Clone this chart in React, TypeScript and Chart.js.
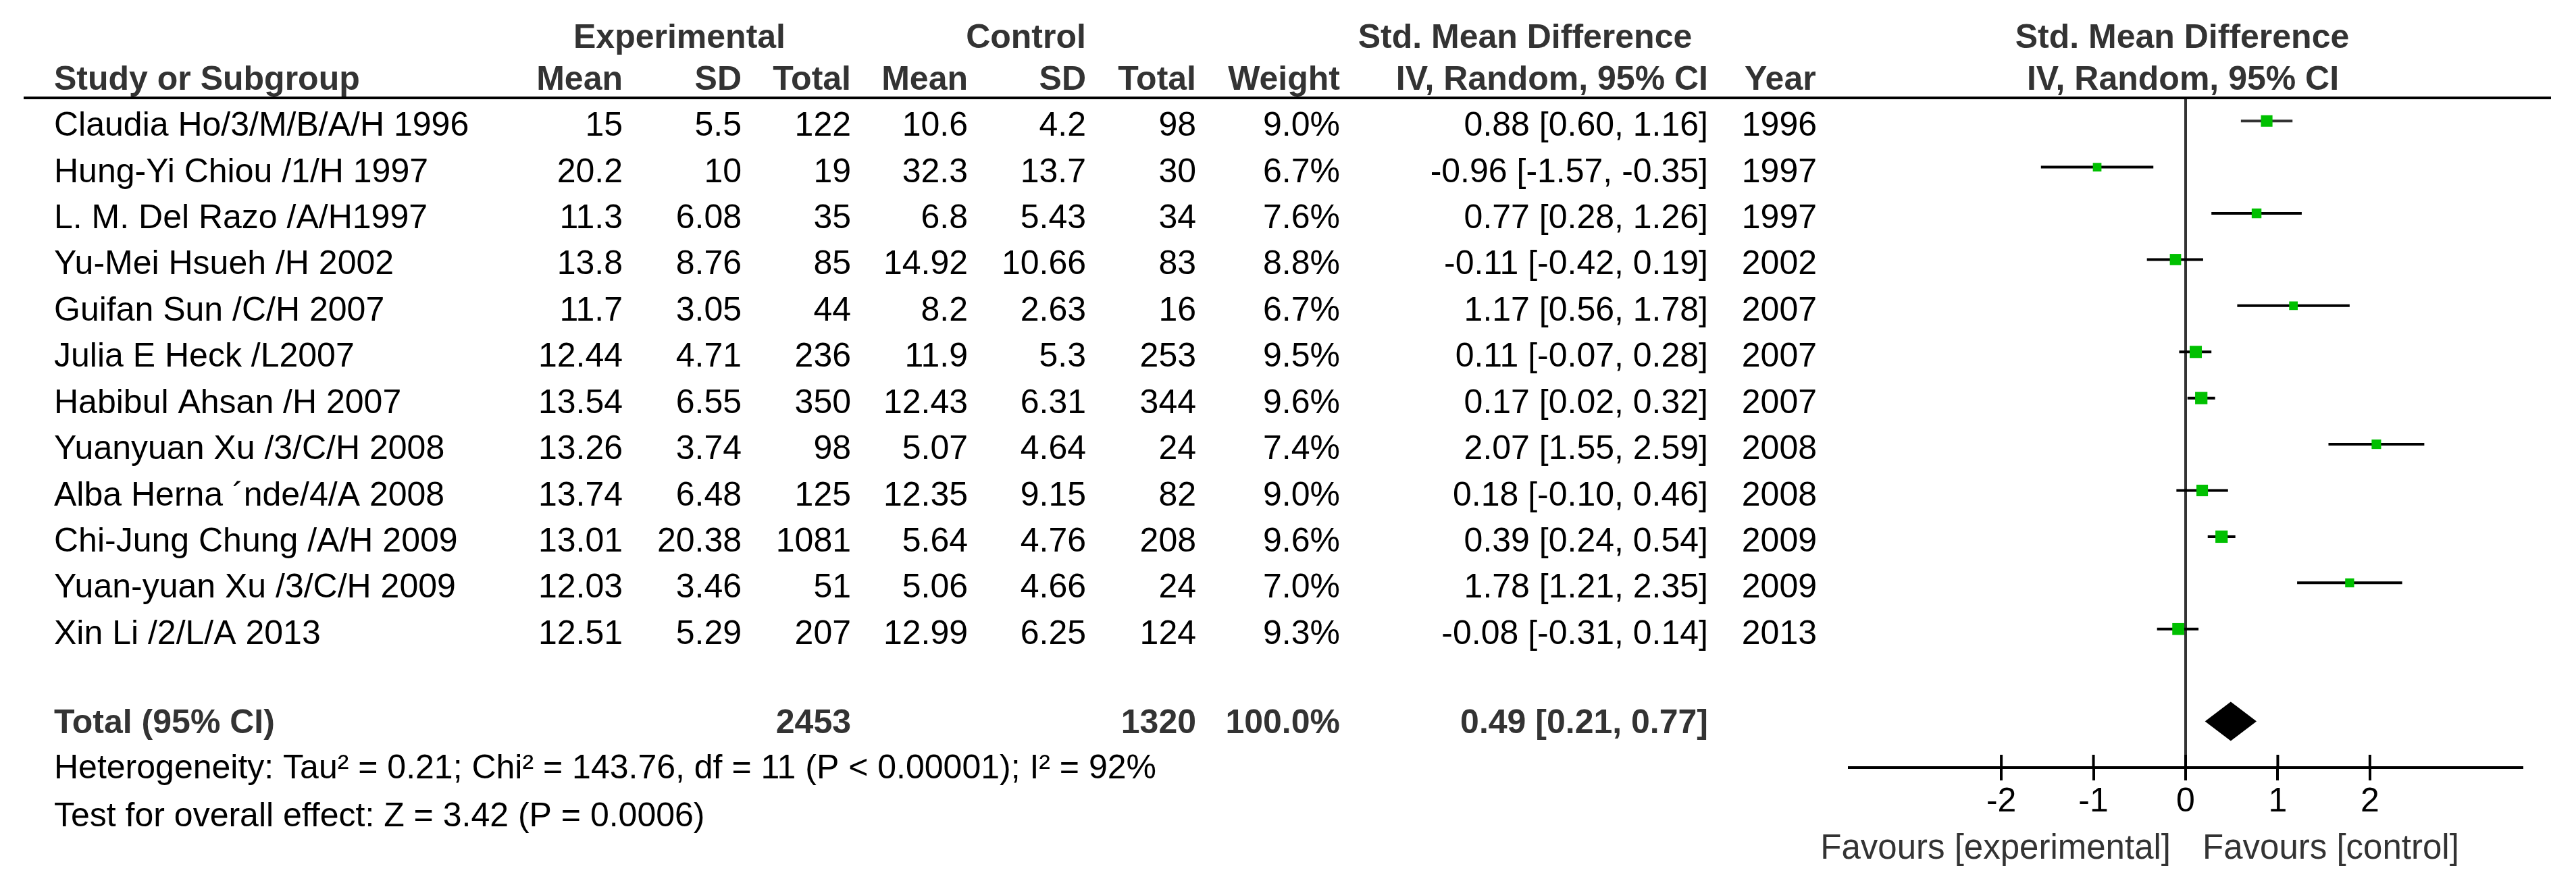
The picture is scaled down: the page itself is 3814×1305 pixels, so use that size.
import React, { useEffect, useRef } from 'react';
import { Chart, registerables } from 'chart.js';

Chart.register(...registerables);

// ---------- data ----------
const STUDIES = [
  'Claudia Ho/3/M/B/A/H 1996',
  'Hung-Yi Chiou /1/H 1997',
  'L. M. Del Razo /A/H1997',
  'Yu-Mei Hsueh /H 2002',
  'Guifan Sun /C/H 2007',
  'Julia E Heck /L2007',
  'Habibul Ahsan /H 2007',
  'Yuanyuan Xu /3/C/H 2008',
  'Alba Herna \u00B4nde/4/A 2008',
  'Chi-Jung Chung /A/H 2009',
  'Yuan-yuan Xu /3/C/H 2009',
  'Xin Li /2/L/A 2013',
];
const EXP_MEAN = [15, 20.2, 11.3, 13.8, 11.7, 12.44, 13.54, 13.26, 13.74, 13.01, 12.03, 12.51];
const EXP_SD = [5.5, 10, 6.08, 8.76, 3.05, 4.71, 6.55, 3.74, 6.48, 20.38, 3.46, 5.29];
const EXP_TOTAL = [122, 19, 35, 85, 44, 236, 350, 98, 125, 1081, 51, 207];
const CTRL_MEAN = [10.6, 32.3, 6.8, 14.92, 8.2, 11.9, 12.43, 5.07, 12.35, 5.64, 5.06, 12.99];
const CTRL_SD = [4.2, 13.7, 5.43, 10.66, 2.63, 5.3, 6.31, 4.64, 9.15, 4.76, 4.66, 6.25];
const CTRL_TOTAL = [98, 30, 34, 83, 16, 253, 344, 24, 82, 208, 24, 124];
const WEIGHT = [9.0, 6.7, 7.6, 8.8, 6.7, 9.5, 9.6, 7.4, 9.0, 9.6, 7.0, 9.3];
const SMD = [0.88, -0.96, 0.77, -0.11, 1.17, 0.11, 0.17, 2.07, 0.18, 0.39, 1.78, -0.08];
const CI_LOW = [0.6, -1.57, 0.28, -0.42, 0.56, -0.07, 0.02, 1.55, -0.1, 0.24, 1.21, -0.31];
const CI_HIGH = [1.16, -0.35, 1.26, 0.19, 1.78, 0.28, 0.32, 2.59, 0.46, 0.54, 2.35, 0.14];
const YEAR = [1996, 1997, 1997, 2002, 2007, 2007, 2007, 2008, 2008, 2009, 2009, 2013];

const TOTAL_EXP = 2453;
const TOTAL_CTRL = 1320;
const TOTAL_WEIGHT = 100.0;
const TOTAL_SMD = 0.49;
const TOTAL_LOW = 0.21;
const TOTAL_HIGH = 0.77;

const X_TICKS = [-2, -1, 0, 1, 2];
const HETEROGENEITY = 'Heterogeneity: Tau\u00B2 = 0.21; Chi\u00B2 = 143.76, df = 11 (P < 0.00001); I\u00B2 = 92%';
const OVERALL = 'Test for overall effect: Z = 3.42 (P = 0.0006)';
const FAVOURS_LEFT = 'Favours [experimental]';
const FAVOURS_RIGHT = 'Favours [control]';

// ---------- style ----------
const FONT = '"Liberation Sans", Arial, Helvetica, sans-serif';
const FS = 50;
const BASE_OFF = 22; // text baseline below row centre
const TOTAL_ROW = 13;
const GREEN = '#00c000';

const fmtCI = (m: number, l: number, h: number) => `${m.toFixed(2)} [${l.toFixed(2)}, ${h.toFixed(2)}]`;

const tablePlugin = {
  id: 'forestTable',
  afterDatasetsDraw(chart: any) {
    const { ctx } = chart;
    const xs = chart.scales.x;
    const ys = chart.scales.y;
    // summary diamond
    const yc = ys.getPixelForValue(TOTAL_ROW);
    const half = 29;
    ctx.save();
    ctx.fillStyle = '#000';
    ctx.beginPath();
    ctx.moveTo(xs.getPixelForValue(TOTAL_LOW), yc);
    ctx.lineTo(xs.getPixelForValue(TOTAL_SMD), yc - half);
    ctx.lineTo(xs.getPixelForValue(TOTAL_HIGH), yc);
    ctx.lineTo(xs.getPixelForValue(TOTAL_SMD), yc + half);
    ctx.closePath();
    ctx.fill();
    ctx.restore();
  },
  afterDraw(chart: any) {
    const { ctx, chartArea } = chart;
    const xs = chart.scales.x;
    const ys = chart.scales.y;
    const base = (row: number) => ys.getPixelForValue(row) + BASE_OFF;
    const put = (t: string, px: number, py: number, align: CanvasTextAlign, bold = false, color = '#000', size = FS) => {
      ctx.font = `${bold ? 'bold ' : ''}${size}px ${FONT}`;
      ctx.fillStyle = color;
      ctx.textAlign = align;
      ctx.textBaseline = 'alphabetic';
      ctx.fillText(t, px, py);
    };
    ctx.save();
    // header line
    ctx.strokeStyle = '#000';
    ctx.lineWidth = 4;
    ctx.beginPath();
    ctx.moveTo(35, chartArea.top);
    ctx.lineTo(3777, chartArea.top);
    ctx.stroke();

    // upper half of axis ticks
    const ay = chartArea.bottom;
    ctx.beginPath();
    X_TICKS.forEach((v) => {
      const px = xs.getPixelForValue(v);
      ctx.moveTo(px, ay - 19);
      ctx.lineTo(px, ay);
    });
    ctx.stroke();

    const HB = '#333';
    // headers
    const h1 = base(-2) + 7;
    const h2 = base(-1);
    put('Experimental', 1006, h1, 'center', true, HB);
    put('Control', 1519, h1, 'center', true, HB);
    put('Std. Mean Difference', 2258, h1, 'center', true, HB);
    put('Std. Mean Difference', 3231, h1, 'center', true, HB);
    put('Study or Subgroup', 80, h2, 'left', true, HB);
    put('Mean', 922, h2, 'right', true, HB);
    put('SD', 1098, h2, 'right', true, HB);
    put('Total', 1260, h2, 'right', true, HB);
    put('Mean', 1433, h2, 'right', true, HB);
    put('SD', 1608, h2, 'right', true, HB);
    put('Total', 1771, h2, 'right', true, HB);
    put('Weight', 1984, h2, 'right', true, HB);
    put('IV, Random, 95% CI', 2529, h2, 'right', true, HB);
    put('Year', 2583, h2, 'left', true, HB);
    put('IV, Random, 95% CI', 3232, h2, 'center', true, HB);

    // study rows
    STUDIES.forEach((s, i) => {
      const b = base(i);
      put(s, 80, b, 'left');
      put(String(EXP_MEAN[i]), 922, b, 'right');
      put(String(EXP_SD[i]), 1098, b, 'right');
      put(String(EXP_TOTAL[i]), 1260, b, 'right');
      put(String(CTRL_MEAN[i]), 1433, b, 'right');
      put(String(CTRL_SD[i]), 1608, b, 'right');
      put(String(CTRL_TOTAL[i]), 1771, b, 'right');
      put(`${WEIGHT[i].toFixed(1)}%`, 1984, b, 'right');
      put(fmtCI(SMD[i], CI_LOW[i], CI_HIGH[i]), 2529, b, 'right');
      put(String(YEAR[i]), 2690, b, 'right');
    });

    // total row
    const tb = base(TOTAL_ROW) - 5;
    put('Total (95% CI)', 80, tb, 'left', true, HB);
    put(String(TOTAL_EXP), 1260, tb, 'right', true, HB);
    put(String(TOTAL_CTRL), 1771, tb, 'right', true, HB);
    put(`${TOTAL_WEIGHT.toFixed(1)}%`, 1984, tb, 'right', true, HB);
    put(fmtCI(TOTAL_SMD, TOTAL_LOW, TOTAL_HIGH), 2529, tb, 'right', true, HB);

    put(HETEROGENEITY, 80, base(14) - 6, 'left');
    put(OVERALL, 80, base(15) - 3, 'left');

    // favours labels
    const zx = xs.getPixelForValue(0);
    const fy = ay + 135;
    put(FAVOURS_LEFT, zx - 22, fy, 'right', false, '#333', 51);
    put(FAVOURS_RIGHT, zx + 25, fy, 'left', false, '#333', 51);
    ctx.restore();
  },
};

export default function App() {
  const ref = useRef<HTMLCanvasElement>(null);
  useEffect(() => {
    if (!ref.current) return;
    const ciSets = STUDIES.map((_, i) => ({
      label: `ci${i}`,
      data: [
        { x: CI_LOW[i], y: i },
        { x: CI_HIGH[i], y: i },
      ],
      showLine: true,
      borderColor: i === 0 ? '#333' : '#000',
      borderWidth: 4,
      pointRadius: 0,
      order: 2,
    }));
    const markerSet = {
      label: 'SMD',
      data: SMD.map((v, i) => ({ x: v, y: i })),
      showLine: false,
      pointStyle: 'rect',
      pointRadius: WEIGHT.map((w) => (w * 1.9) / 2 / Math.SQRT1_2),
      backgroundColor: GREEN,
      borderColor: GREEN,
      borderWidth: 0,
      order: 1,
    };
    const chart = new Chart(ref.current, {
      type: 'scatter',
      data: { datasets: [markerSet as any, ...ciSets] },
      options: {
        animation: false,
        responsive: true,
        maintainAspectRatio: false,
        devicePixelRatio: 1,
        layout: { padding: { left: 2738, right: 80, top: 145, bottom: 0 }, autoPadding: false },
        plugins: { legend: { display: false }, tooltip: { enabled: false } },
        events: [],
        scales: {
          x: {
            type: 'linear',
            min: -3.65,
            max: 3.65,
            afterBuildTicks: (scale: any) => {
              scale.ticks = X_TICKS.map((v) => ({ value: v }));
            },
            afterFit: (scale: any) => {
              scale.height = 168;
            },
            grid: {
              drawOnChartArea: true,
              drawTicks: true,
              tickLength: 19,
              tickWidth: 4,
              tickColor: '#000',
              lineWidth: 4,
              color: (c: any) => (c.tick && c.tick.value === 0 ? '#333' : 'rgba(0,0,0,0)'),
            },
            border: { display: true, color: '#000', width: 4 },
            ticks: {
              autoSkip: false,
              maxRotation: 0,
              padding: 2,
              color: '#000',
              font: { family: FONT, size: FS },
              callback: (v: any) => String(v),
            },
          },
          y: {
            type: 'linear',
            display: false,
            reverse: true,
            min: -0.5,
            max: 14,
          },
        },
      },
      plugins: [tablePlugin],
    } as any);
    return () => chart.destroy();
  }, []);
  return (
    <div style={{ position: 'fixed', left: 0, top: 0, width: 3814, height: 1305, background: '#fff' }}>
      <canvas ref={ref} />
    </div>
  );
}
